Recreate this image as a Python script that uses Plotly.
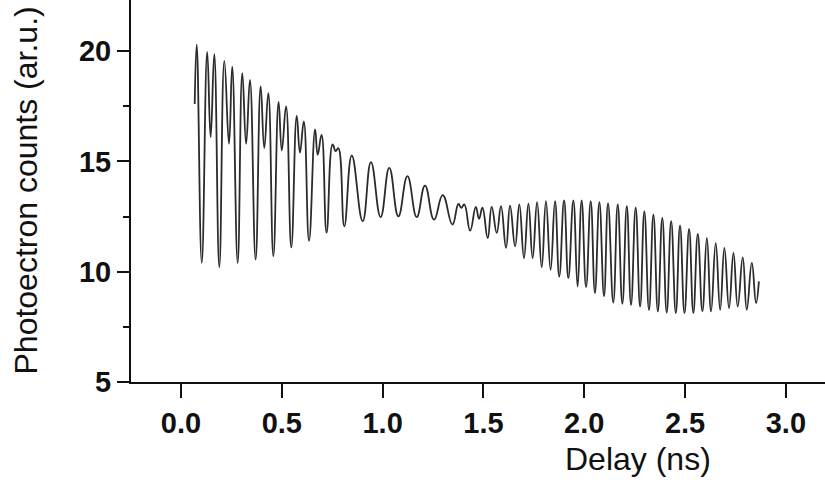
import plotly.graph_objects as go

# Turning points (maxima/minima) of the photoelectron signal vs. pump-probe delay
delay_ns = [
    0.068, 0.078, 0.103, 0.130, 0.147, 0.165, 0.190, 0.215, 0.238, 0.254,
    0.281, 0.304, 0.323, 0.342, 0.370, 0.395, 0.413, 0.433, 0.458, 0.484,
    0.500, 0.521, 0.547, 0.574, 0.590, 0.609, 0.635, 0.665, 0.678, 0.697,
    0.722, 0.752, 0.767, 0.780, 0.810, 0.847, 0.901, 0.942, 0.990, 1.033,
    1.078, 1.123, 1.169, 1.210, 1.255, 1.298, 1.346, 1.376, 1.390, 1.405,
    1.434, 1.462, 1.478, 1.495, 1.521, 1.541, 1.566, 1.587, 1.612, 1.632,
    1.657, 1.678, 1.701, 1.723, 1.744, 1.766, 1.789, 1.810, 1.833, 1.855,
    1.876, 1.900, 1.921, 1.946, 1.967, 1.987, 2.009, 2.032, 2.053, 2.075,
    2.098, 2.118, 2.144, 2.166, 2.189, 2.211, 2.232, 2.255, 2.277, 2.298,
    2.321, 2.343, 2.365, 2.387, 2.409, 2.431, 2.454, 2.475, 2.497, 2.520,
    2.541, 2.563, 2.586, 2.608, 2.629, 2.652, 2.674, 2.695, 2.718, 2.740,
    2.761, 2.786, 2.806, 2.831, 2.852, 2.866,
]
counts = [
    17.6, 20.3, 10.4, 19.97, 16.1, 19.86, 10.2, 19.56, 15.8, 19.3,
    10.4, 19.0, 15.8, 18.7, 10.55, 18.4, 15.6, 18.1, 10.7, 17.7,
    15.5, 17.5, 11.1, 17.06, 15.4, 16.8, 11.4, 16.45, 15.3, 16.2,
    11.77, 15.77, 15.47, 15.6, 12.06, 15.27, 12.29, 14.97, 12.48, 14.71,
    12.51, 14.33, 12.48, 13.9, 12.36, 13.47, 12.14, 13.07, 12.9, 13.05,
    11.86, 12.94, 12.4, 12.9, 11.53, 12.94, 11.76, 12.97, 11.08, 13.0,
    11.15, 13.05, 10.62, 13.09, 10.62, 13.15, 10.2, 13.2, 10.09, 13.2,
    9.78, 13.23, 9.71, 13.23, 9.33, 13.23, 9.3, 13.2, 9.03, 13.15,
    8.88, 13.1, 8.6, 13.05, 8.55, 12.97, 8.5, 12.9, 8.42, 12.74,
    8.27, 12.59, 8.2, 12.44, 8.15, 12.29, 8.12, 12.1, 8.12, 11.94,
    8.12, 11.71, 8.2, 11.53, 8.2, 11.3, 8.27, 11.08, 8.35, 10.85,
    8.42, 10.65, 8.27, 10.4, 8.58, 9.56,
]

x_ticks = [0.0, 0.5, 1.0, 1.5, 2.0, 2.5, 3.0]
x_tick_text = ["0.0", "0.5", "1.0", "1.5", "2.0", "2.5", "3.0"]
y_ticks = [5, 10, 15, 20]

FAMILY = "Liberation Sans, Arial, sans-serif"
TICK_FONT = dict(family=FAMILY, size=29, color="#111111", weight="bold")
TITLE_FONT = dict(family=FAMILY, size=32, color="#111111")

fig = go.Figure()
fig.add_trace(go.Scatter(
    x=delay_ns, y=counts, mode="lines",
    line=dict(color="#2b2b2b", width=1.8, shape="spline", smoothing=1.3),
    hoverinfo="skip", showlegend=False,
))

fig.update_xaxes(
    range=[-0.248, 3.194], tickvals=x_ticks, ticktext=x_tick_text,
    ticks="outside", ticklen=14, tickwidth=2, tickcolor="#111111",
    showline=True, linecolor="#111111", linewidth=2,
    showgrid=False, zeroline=False, tickfont=TICK_FONT,
)
fig.update_yaxes(
    range=[5, 22.32], tickvals=y_ticks,
    ticks="outside", ticklen=12, tickwidth=2, tickcolor="#111111",
    minor=dict(dtick=2.5, ticks="outside", ticklen=6, tickwidth=1.5, tickcolor="#111111"),
    showline=True, linecolor="#111111", linewidth=2,
    showgrid=False, zeroline=False, tickfont=TICK_FONT,
)

fig.add_annotation(
    text="Photoectron counts (ar.u.)", textangle=-90,
    xref="paper", yref="paper", x=-0.152, y=0.5,
    xanchor="center", yanchor="middle", showarrow=False, font=TITLE_FONT,
)
fig.add_annotation(
    text="Delay (ns)",
    xref="paper", yref="paper", x=0.731, y=-0.148,
    xanchor="center", yanchor="top", showarrow=False, font=TITLE_FONT,
)

fig.update_layout(
    width=825, height=490,
    margin=dict(l=131, r=0, t=0, b=108),
    paper_bgcolor="white", plot_bgcolor="white",
)

fig.write_html("out.html")
